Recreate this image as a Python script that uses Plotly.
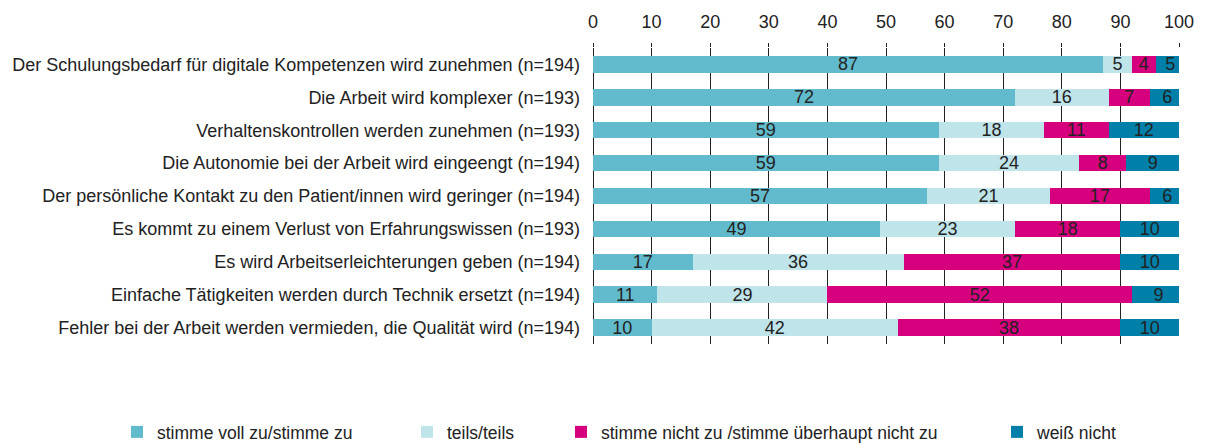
import plotly.graph_objects as go

categories = [
    "Der Schulungsbedarf für digitale Kompetenzen wird zunehmen (n=194)",
    "Die Arbeit wird komplexer (n=193)",
    "Verhaltenskontrollen werden zunehmen (n=193)",
    "Die Autonomie bei der Arbeit wird eingeengt (n=194)",
    "Der persönliche Kontakt zu den Patient/innen wird geringer (n=194)",
    "Es kommt zu einem Verlust von Erfahrungswissen (n=193)",
    "Es wird Arbeitserleichterungen geben (n=194)",
    "Einfache Tätigkeiten werden durch Technik ersetzt (n=194)",
    "Fehler bei der Arbeit werden vermieden, die Qualität wird (n=194)",
]
series_names = [
    "stimme voll zu/stimme zu",
    "teils/teils",
    "stimme nicht zu /stimme überhaupt nicht zu",
    "weiß nicht",
]
stimme_zu = [87, 72, 59, 59, 57, 49, 17, 11, 10]
teils = [5, 16, 18, 24, 21, 23, 36, 29, 42]
stimme_nicht_zu = [4, 7, 11, 8, 17, 18, 37, 52, 38]
weiss_nicht = [5, 6, 12, 9, 6, 10, 10, 9, 10]
tick_values = [0, 10, 20, 30, 40, 50, 60, 70, 80, 90, 100]

values = [stimme_zu, teils, stimme_nicht_zu, weiss_nicht]
colors = ["#62BBCC", "#BFE4EA", "#D6007E", "#0080A9"]

FONT = "Liberation Sans Narrow, Arial Narrow, Liberation Sans, Arial, sans-serif"
TXT = "#222222"

# the page body adds an 8px offset; the figure is sized to fit the window
OFF = 8
W, H = 1208 - OFF, 443 - OFF
L, T = 593 - OFF, 48 - OFF
R = W - (1179 - OFF)
B = H - (344 - OFF)
pw = W - L - R
ph = H - T - B

legend_text_px = [157 - OFF, 447 - OFF, 601 - OFF, 1037 - OFF]
legend_y_px = 432 - OFF

fig = go.Figure()
for i, (name, vals, col) in enumerate(zip(series_names, values, colors)):
    lg = "legend" if i == 0 else f"legend{i+1}"
    fig.add_trace(go.Bar(
        y=categories, x=vals, name=name, orientation="h",
        marker=dict(color=col, line=dict(width=0)),
        width=0.5,
        text=vals, texttemplate="%{x}", textposition="inside",
        insidetextanchor="middle", constraintext="none", textangle=0,
        textfont=dict(family=FONT, size=18, color=TXT),
        legend=lg, showlegend=True, hoverinfo="skip",
    ))

layout_legends = {}
for i, px in enumerate(legend_text_px):
    key = "legend" if i == 0 else f"legend{i+1}"
    layout_legends[key] = dict(
        x=(px - 40 - L) / pw,
        y=(T + ph - legend_y_px) / ph,
        xanchor="left", yanchor="middle",
        orientation="h",
        font=dict(family=FONT, size=17.5, color=TXT),
        bgcolor="rgba(0,0,0,0)",
        itemwidth=30,
    )

fig.update_layout(
    width=W, height=H,
    barmode="stack",
    bargap=0.5,
    showlegend=True,
    plot_bgcolor="white", paper_bgcolor="white",
    margin=dict(l=L, r=R, t=T, b=B, pad=0, autoexpand=False),
    uniformtext=dict(minsize=18, mode="show"),
    font=dict(family=FONT, size=18, color=TXT),
    **layout_legends,
)
fig.update_xaxes(
    side="top", range=[0, 100], tickvals=tick_values,
    showgrid=True, gridcolor="#222222", gridwidth=1,
    zeroline=True, zerolinecolor="#222222", zerolinewidth=1,
    ticks="outside", ticklen=4, tickcolor="#222222",
    ticklabelstandoff=8,
    tickfont=dict(family=FONT, size=18, color=TXT),
    showline=False, fixedrange=True,
)
fig.update_yaxes(
    autorange="reversed", showgrid=False, ticks="",
    ticklabelstandoff=12,
    tickfont=dict(family=FONT, size=18, color=TXT),
    showline=False, fixedrange=True,
)

fig.write_html("out.html")
